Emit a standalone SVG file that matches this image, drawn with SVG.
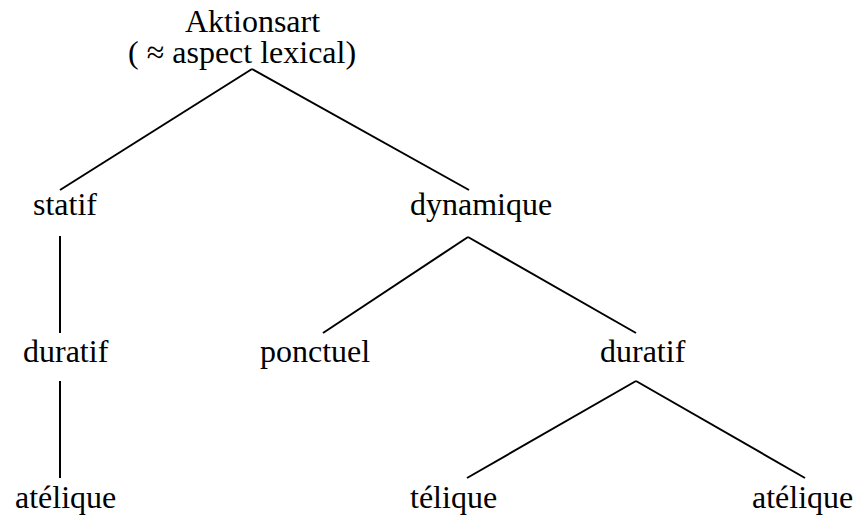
<svg xmlns="http://www.w3.org/2000/svg" width="854" height="517" viewBox="0 0 854 517">
<style>
text{font-family:"Liberation Serif","Times New Roman",serif;font-size:32px;fill:#000}
.e line{stroke:#000;stroke-width:2;stroke-linecap:butt}
</style>
<rect width="854" height="517" fill="#fff"/>
<g id="edges" class="e">
<line x1="252" y1="69" x2="60" y2="190"/>
<line x1="252" y1="69" x2="469" y2="190"/>
<line x1="60" y1="236" x2="60" y2="333"/>
<line x1="60" y1="381" x2="60" y2="478"/>
<line x1="468" y1="237" x2="323" y2="333"/>
<line x1="468" y1="237" x2="636" y2="333"/>
<line x1="636" y1="381" x2="467" y2="478"/>
<line x1="636" y1="381" x2="805" y2="478"/>
</g>
<g id="root"><text><tspan x="185" y="32">Aktionsart</tspan><tspan x="128" y="63">( ≈ aspect lexical)</tspan></text></g>
<g id="statif"><text x="33" y="215">statif</text></g>
<g id="dynamique"><text x="410" y="215">dynamique</text></g>
<g id="duratif1"><text x="23" y="362">duratif</text></g>
<g id="ponctuel"><text x="260" y="362">ponctuel</text></g>
<g id="duratif2"><text x="600" y="362">duratif</text></g>
<g id="atelique1"><text x="15" y="508">atélique</text></g>
<g id="telique"><text x="410" y="508">télique</text></g>
<g id="atelique2"><text x="752" y="508">atélique</text></g>
</svg>
